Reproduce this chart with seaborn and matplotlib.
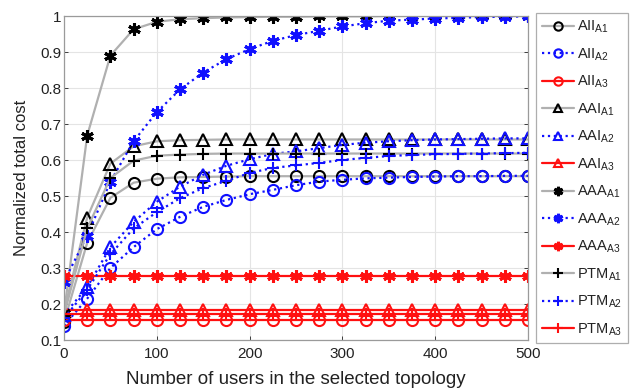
import numpy as np
import pandas as pd
import matplotlib
matplotlib.use("Agg")
import matplotlib.pyplot as plt
import seaborn as sns

users = [0, 25, 50, 75, 100, 125, 150, 175, 200, 225, 250, 275, 300, 325, 350, 375, 400, 425, 450, 475, 500]

AII_A1 = [0.15, 0.37, 0.495, 0.537, 0.548, 0.552, 0.553, 0.554, 0.555, 0.555, 0.555, 0.555, 0.555, 0.555, 0.555, 0.555, 0.555, 0.555, 0.555, 0.555, 0.555]
AII_A2 = [0.14, 0.215, 0.30, 0.358, 0.408, 0.442, 0.47, 0.489, 0.505, 0.517, 0.53, 0.54, 0.545, 0.549, 0.551, 0.553, 0.554, 0.555, 0.555, 0.556, 0.556]
AII_A3 = [0.155] * 21
AAI_A1 = [0.18, 0.44, 0.59, 0.638, 0.652, 0.655, 0.656, 0.657, 0.657, 0.657, 0.657, 0.657, 0.657, 0.657, 0.657, 0.657, 0.657, 0.657, 0.657, 0.657, 0.657]
AAI_A2 = [0.17, 0.247, 0.358, 0.428, 0.484, 0.526, 0.559, 0.584, 0.602, 0.617, 0.624, 0.633, 0.642, 0.648, 0.652, 0.655, 0.657, 0.658, 0.659, 0.66, 0.66]
AAI_A3 = [0.183] * 21
AAA_A1 = [0.175, 0.668, 0.89, 0.963, 0.984, 0.991, 0.994, 0.996, 0.997, 0.998, 0.998, 0.999, 0.999, 0.999, 1.0, 1.0, 1.0, 1.0, 1.0, 1.0, 1.0]
AAA_A2 = [0.262, 0.39, 0.54, 0.652, 0.733, 0.796, 0.843, 0.88, 0.908, 0.931, 0.947, 0.959, 0.971, 0.98, 0.987, 0.99, 0.993, 0.995, 0.997, 0.998, 0.999]
AAA_A3 = [0.278] * 21
PTM_A1 = [0.17, 0.41, 0.55, 0.598, 0.612, 0.615, 0.617, 0.618, 0.618, 0.618, 0.618, 0.618, 0.618, 0.618, 0.618, 0.618, 0.618, 0.618, 0.618, 0.618, 0.618]
PTM_A2 = [0.16, 0.24, 0.338, 0.41, 0.455, 0.494, 0.522, 0.542, 0.564, 0.578, 0.585, 0.592, 0.6, 0.606, 0.611, 0.614, 0.616, 0.617, 0.618, 0.619, 0.62]
PTM_A3 = [0.173] * 21

x_ticks = [0, 100, 200, 300, 400, 500]
y_ticks = [0.1, 0.2, 0.3, 0.4, 0.5, 0.6, 0.7, 0.8, 0.9, 1.0]
y_tick_labels = ["0.1", "0.2", "0.3", "0.4", "0.5", "0.6", "0.7", "0.8", "0.9", "1"]

series = [
    ("AII", "A1", AII_A1), ("AII", "A2", AII_A2), ("AII", "A3", AII_A3),
    ("AAI", "A1", AAI_A1), ("AAI", "A2", AAI_A2), ("AAI", "A3", AAI_A3),
    ("AAA", "A1", AAA_A1), ("AAA", "A2", AAA_A2), ("AAA", "A3", AAA_A3),
    ("PTM", "A1", PTM_A1), ("PTM", "A2", PTM_A2), ("PTM", "A3", PTM_A3),
]

sns.set_theme(style="whitegrid")
plt.rcParams["font.family"] = ["Liberation Sans", "DejaVu Sans"]
plt.rcParams["mathtext.fontset"] = "custom"
plt.rcParams["mathtext.rm"] = "Liberation Sans"
plt.rcParams["mathtext.it"] = "Liberation Sans"
plt.rcParams["mathtext.default"] = "regular"

fig = plt.figure(figsize=(6.3, 3.89), dpi=100)
ax = fig.add_axes([64/630, 1 - 340/389, (528-64)/630, (340-16)/389])

marker_map = {"AII": "o", "AAI": "^", "AAA": (6, 2, 0), "PTM": "+"}
style_map = {
    "A1": dict(line_color="#b0b0b0", marker_color="black", ls="-"),
    "A2": dict(line_color="#1010ff", marker_color="#1010ff", ls=":"),
    "A3": dict(line_color="#ff1010", marker_color="#ff1010", ls="-"),
}

for scheme, variant, vals in series:
    df = pd.DataFrame({"users": users, "cost": vals})
    st = style_map[variant]
    mk = marker_map[scheme]
    ms = 8 if scheme in ("AII", "AAI") else 9
    mew = 1.5 if scheme in ("AII", "AAI", "PTM") else 2.2
    sns.lineplot(data=df, x="users", y="cost", ax=ax,
                 color=st["line_color"], linestyle=st["ls"], linewidth=1.6,
                 marker=mk, markersize=ms, markeredgewidth=mew,
                 markerfacecolor="none", markeredgecolor=st["marker_color"],
                 label=f"{scheme}$_{{{variant}}}$", legend=False)

ax.set_xlim(0, 500)
ax.set_ylim(0.1, 1.0)
ax.set_xticks(x_ticks)
ax.set_yticks(y_ticks)
ax.set_yticklabels(y_tick_labels)
ax.tick_params(axis="both", labelsize=11, colors="#222222", direction="in",
               length=3, width=0.6, top=True, right=True, bottom=True, left=True)
ax.tick_params(axis="x", pad=5)
ax.tick_params(axis="y", pad=2)
ax.grid(True, color="#e4e4e4", linewidth=0.8)
for s in ax.spines.values():
    s.set_color("#9a9a9a")
    s.set_linewidth(0.9)
ax.set_xlabel("Number of users in the selected topology", fontsize=13.5, color="#222222", labelpad=7)
ax.set_ylabel("Normalized total cost", fontsize=12, color="#222222", labelpad=8)
ax.set_facecolor("white")

handles, labels = ax.get_legend_handles_labels()
leg = fig.legend(handles, labels, loc="upper left",
                 bbox_to_anchor=(536/630, 1 - 13/389),
                 fontsize=10.5, frameon=True, fancybox=False,
                 handlelength=2.2, handletextpad=0.2, labelspacing=0.76,
                 borderpad=0.4, borderaxespad=0, markerscale=0.75)
leg.get_frame().set_edgecolor("#9a9a9a")
leg.get_frame().set_linewidth(0.9)
for t in leg.get_texts():
    t.set_color("#222222")

fig.savefig("out.png", dpi=100, facecolor="white")
